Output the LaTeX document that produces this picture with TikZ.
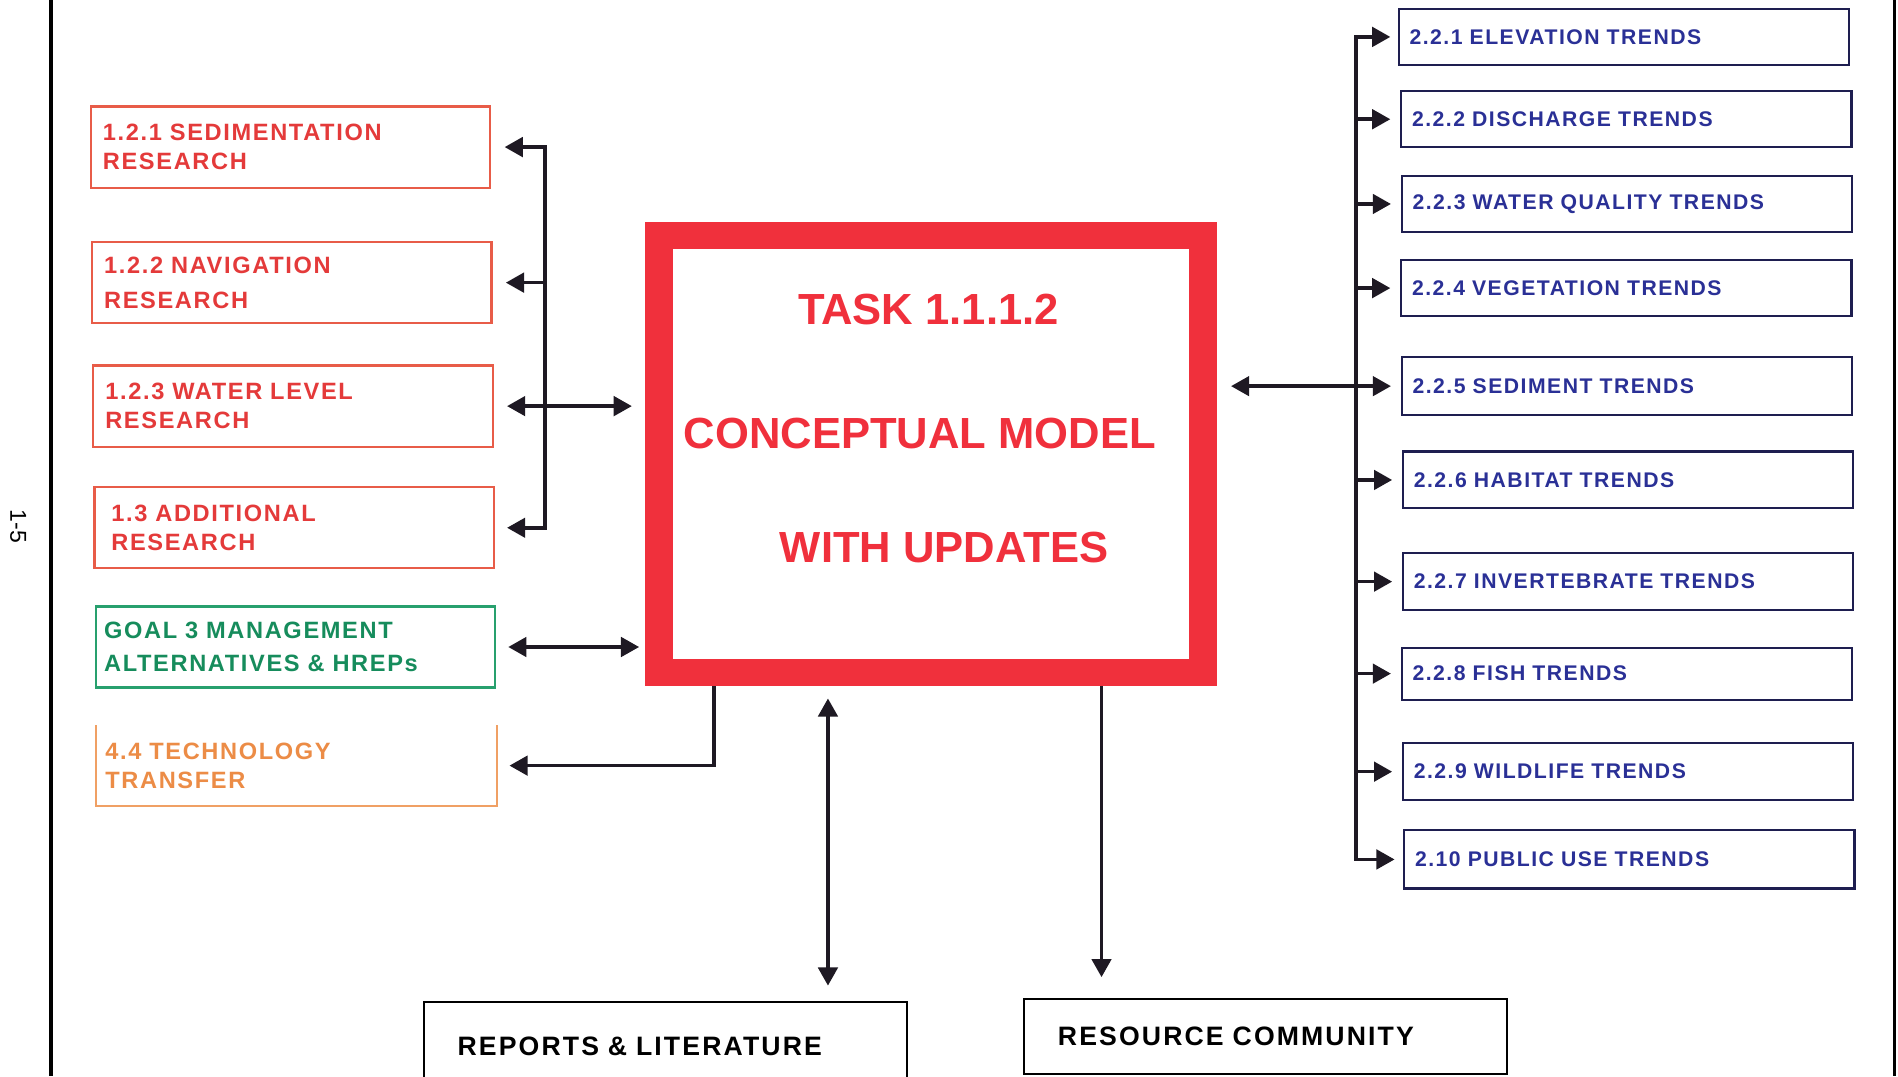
\documentclass[tikz,border=0pt]{standalone}
\usepackage{fontspec}
\setmainfont{Liberation Sans}
\newfontfamily\lbfont[LetterSpace=7]{Liberation Sans}
\newfontfamily\rbfont[LetterSpace=7]{Liberation Sans}
\newfontfamily\bbfont[LetterSpace=8]{Liberation Sans}
\usetikzlibrary{arrows.meta}
\definecolor{redt}{RGB}{228,58,58}
\definecolor{redb}{RGB}{232,92,72}
\definecolor{mainred}{RGB}{240,48,60}
\definecolor{greent}{RGB}{22,140,92}
\definecolor{greenb}{RGB}{40,160,110}
\definecolor{oranget}{RGB}{236,140,70}
\definecolor{orangeb}{RGB}{240,160,100}
\definecolor{navyt}{RGB}{42,48,150}
\definecolor{navyb}{RGB}{30,30,80}
\definecolor{arrowc}{RGB}{30,25,35}
\begin{document}
\begin{tikzpicture}[x=1pt,y=-1pt,
  >={Triangle[length=15pt,width=16pt]},
  conn/.style={draw=arrowc,line width=3pt},
  lbox/.style={draw=redb,line width=1.8pt,minimum height=67pt,text width=310pt,
    inner xsep=10pt,inner ysep=0pt,align=left,text=redt,
    font=\lbfont\bfseries\fontsize{19.5}{24}\selectfont},
  rbox/.style={draw=navyb,line width=1.8pt,minimum height=46pt,text width=354pt,
    inner xsep=9pt,inner ysep=0pt,align=left,text=navyt,
    font=\rbfont\bfseries\fontsize{17.5}{21}\selectfont},
  bbox/.style={draw=black,line width=1.5pt,minimum width=399pt,text width=343pt,
    inner xsep=28pt,inner ysep=0pt,align=left,text=black,
    font=\bbfont\bfseries\fontsize{22}{26}\selectfont},
  maintxt/.style={text=mainred,inner sep=0pt,font=\bfseries\fontsize{36}{40}\selectfont}
]
\path[use as bounding box,clip] (0,0) rectangle (1568,889);
\fill[white] (0,0) rectangle (1568,889);

% page frame lines
\draw[line width=3pt] (42,0) -- (42,889);
\draw[line width=2.5pt] (1565,0) -- (1565,889);
\node[rotate=-90,font=\fontsize{19}{22}\selectfont] (pg) at (15,435) {1-5};

% left boxes
\node[lbox] (l1) at (240,121.5) {1.2.1 SEDIMENTATION\\RESEARCH};
\node[lbox] (l2) at (241,233.5) {1.2.2 NAVIGATION\\[5pt]RESEARCH};
\node[lbox] (l3) at (242,335.5) {1.2.3 WATER LEVEL\\RESEARCH};
\node[lbox,inner xsep=14pt,text width=302pt] (l4) at (243,436) {1.3 ADDITIONAL\\RESEARCH};
\node[lbox,draw=greenb,text=greent,inner xsep=7pt,text width=316pt] (g3) at (244,534.5) {GOAL 3 MANAGEMENT\\[3pt]ALTERNATIVES \& HREPs};
\node[lbox,draw=none,text=oranget,inner xsep=7pt,text width=316pt,minimum height=65pt] (tt) at (245,632.5) {4.4 TECHNOLOGY\\TRANSFER};
\draw[draw=orangeb,line width=1.8pt] (tt.north west) -- (tt.south west) -- (tt.south east) -- (tt.north east);

% central box
\node[draw=mainred,line width=23pt,minimum width=449pt,minimum height=361pt,inner sep=0pt] (cm) at (769,375) {};
\node[maintxt] (t1) at (767,256) {TASK 1.1.1.2};
\node[maintxt] (t2) at (760,358) {CONCEPTUAL MODEL};
\node[maintxt] (t3) at (780,452) {WITH UPDATES};

% right boxes
\node[rbox] (r1) at (1341.5,30.5) {2.2.1 ELEVATION TRENDS};
\node[rbox] (r2) at (1343.5,98.5) {2.2.2 DISCHARGE TRENDS};
\node[rbox] (r3) at (1344,168.5) {2.2.3 WATER QUALITY TRENDS};
\node[rbox] (r4) at (1343.5,238) {2.2.4 VEGETATION TRENDS};
\node[rbox,minimum height=48pt] (r5) at (1344,319) {2.2.5 SEDIMENT TRENDS};
\node[rbox,minimum height=47pt] (r6) at (1345,396.5) {2.2.6 HABITAT TRENDS};
\node[rbox,minimum height=47pt] (r7) at (1345,480.5) {2.2.7 INVERTEBRATE TRENDS};
\node[rbox,minimum height=43pt] (r8) at (1344,556.5) {2.2.8 FISH TRENDS};
\node[rbox,minimum height=47pt] (r9) at (1345,637.5) {2.2.9 WILDLIFE TRENDS};
\node[rbox,minimum height=48pt] (r10) at (1346,710) {2.10 PUBLIC USE TRENDS};

% bottom boxes
\node[bbox,minimum height=72pt] (rep) at (549.5,864) {REPORTS \& LITERATURE};
\node[bbox,minimum height=62pt] (res) at (1045.5,856) {RESOURCE COMMUNITY};

% left connectors
\coordinate (lbx) at (450,0);
\draw[conn,->,shorten >=11pt] (l3.east -| lbx) -- (l1.east -| lbx) -- (l1.east);
\draw[conn,->,shorten >=10pt] (l2.east -| lbx) -- (l4.east -| lbx) -- (l4.east);
\draw[conn,->,shorten >=11pt] (l2.east -| lbx) -- (l2.east);
\draw[conn,<->,shorten <=11pt,shorten >=11pt] (l3.east) -- (l3.east -| cm.west);
\draw[conn,<->,shorten <=10pt,shorten >=5pt] (g3.east) -- (g3.east -| cm.west);
\coordinate (ttx) at (590,0);
\draw[conn,->,shorten >=10pt] (cm.south -| ttx) -- (tt.east -| ttx) -- (tt.east);

% bottom connectors
\coordinate (repx) at (684,0);
\draw[conn,<->,shorten <=10pt,shorten >=13pt] (cm.south -| repx) -- (rep.north -| repx);
\coordinate (resx) at (910,0);
\draw[conn,->,shorten >=17pt] (cm.south -| resx) -- (res.north -| resx);

% right connectors
\coordinate (rbx) at (1120,0);
\draw[conn,->,shorten >=6pt] (r5.west -| rbx) -- (r1.west -| rbx) -- (r1.west);
\draw[conn,->,shorten >=7pt] (r5.west -| rbx) -- (r10.west -| rbx) -- (r10.west);
\foreach \k in {2,...,9} \draw[conn,->,shorten >=8pt] (r\k.west -| rbx) -- (r\k.west);
\draw[conn,<-,shorten <=12pt] (cm.east |- r5.west) -- (r5.west -| rbx);
\end{tikzpicture}
\end{document}
